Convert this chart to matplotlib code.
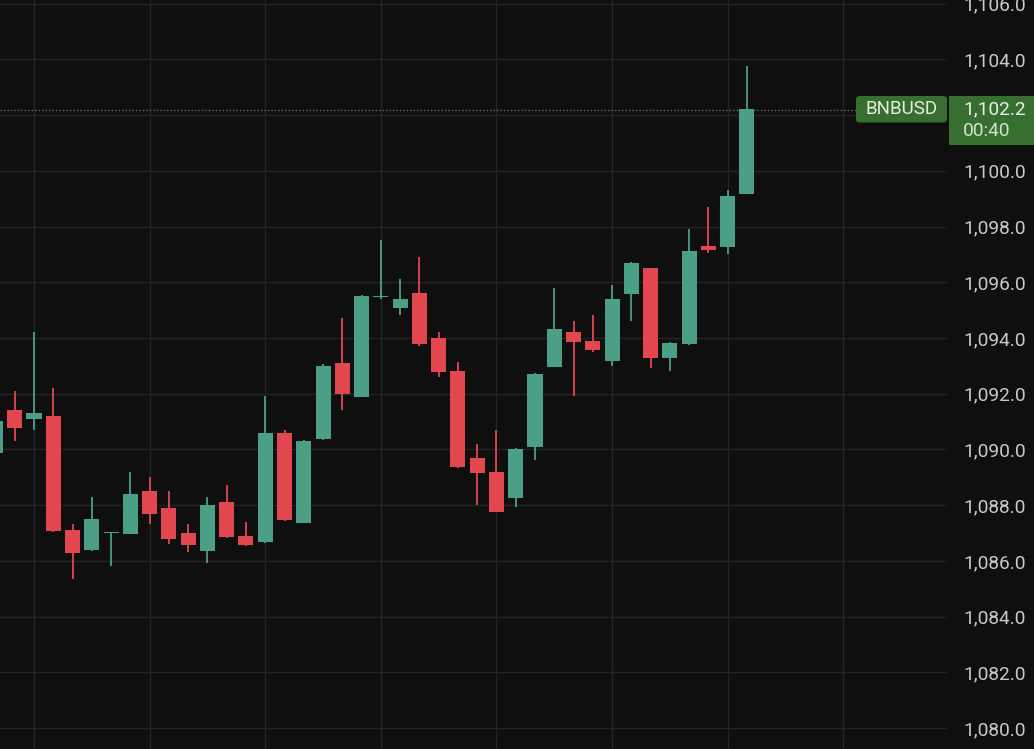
import matplotlib
matplotlib.use("Agg")
import matplotlib.pyplot as plt
from matplotlib.patches import FancyBboxPatch, Rectangle
from matplotlib.ticker import FuncFormatter

plt.rcParams['font.family'] = ['Roboto', 'DejaVu Sans']

# ---- data ----
opens  = [1089.89, 1091.42, 1091.08, 1091.19, 1087.11, 1086.38, 1087.00, 1086.98, 1088.51, 1087.90,
          1087.00, 1086.37, 1088.12, 1086.90, 1086.68, 1090.59, 1087.37, 1090.38, 1093.12, 1091.90,
          1095.47, 1095.09, 1095.63, 1094.01, 1092.82, 1089.71, 1089.19, 1088.27, 1090.10, 1092.97,
          1094.22, 1093.90, 1093.19, 1095.59, 1096.50, 1093.29, 1093.79, 1097.30, 1097.28, 1099.18]
highs  = [1091.20, 1092.10, 1094.21, 1092.20, 1087.32, 1088.30, 1087.02, 1089.18, 1089.01, 1088.52,
          1087.34, 1088.30, 1088.73, 1087.41, 1091.92, 1090.70, 1090.35, 1093.05, 1094.72, 1095.55,
          1097.51, 1096.12, 1096.91, 1094.22, 1093.13, 1090.20, 1090.70, 1090.05, 1092.75, 1095.78,
          1094.61, 1094.83, 1095.90, 1096.72, 1096.52, 1093.85, 1097.91, 1098.71, 1099.31, 1103.77]
lows   = [1089.70, 1090.32, 1090.70, 1087.03, 1085.34, 1086.36, 1085.83, 1086.96, 1087.33, 1086.62,
          1086.33, 1085.94, 1086.84, 1086.55, 1086.66, 1087.45, 1087.35, 1090.35, 1091.42, 1091.88,
          1095.40, 1094.84, 1093.71, 1092.60, 1089.33, 1088.01, 1087.75, 1087.93, 1089.63, 1092.95,
          1091.93, 1093.51, 1093.01, 1094.61, 1092.94, 1092.83, 1093.75, 1097.04, 1097.02, 1099.15]
closes = [1091.02, 1090.78, 1091.30, 1087.09, 1086.30, 1087.51, 1087.00, 1088.40, 1087.70, 1086.79,
          1086.58, 1088.01, 1086.86, 1086.57, 1090.59, 1087.47, 1090.31, 1093.01, 1092.00, 1095.51,
          1095.50, 1095.40, 1093.79, 1092.78, 1089.38, 1089.17, 1087.77, 1090.02, 1092.71, 1094.32,
          1093.87, 1093.58, 1095.40, 1096.69, 1093.29, 1093.82, 1097.12, 1097.17, 1099.10, 1102.21]
first_index = -2
price_ticks = [1080, 1082, 1084, 1086, 1088, 1090, 1092, 1094, 1096, 1098, 1100, 1102, 1104, 1106]
hidden_tick = 1102  # covered by the last-price tag in the reference
symbol = "BNBUSD"
last_price = 1102.2
countdown = "00:40"

# ---- style ----
BG = "#0f0f0f"
GRID = "#242424"
UP = "#4b9f87"
DOWN = "#e2474f"
LABEL = "#c9c9c9"
TAG = "#376f31"

W, H = 1034, 749
fig = plt.figure(figsize=(W / 100, H / 100), dpi=100, facecolor=BG)
ax_right_px = 947
ax = fig.add_axes([0, 0, ax_right_px / W, 1])
ax.set_facecolor(BG)

xs = list(range(first_index, first_index + len(opens)))
for x, o, h, l, c in zip(xs, opens, highs, lows, closes):
    col = UP if c >= o else DOWN
    ax.vlines(x, l, h, color=col, linewidth=1.3, zorder=3)
    bottom = min(o, c)
    height = max(abs(c - o), 0.05)
    ax.bar(x, height, bottom=bottom, width=0.78, color=col, linewidth=0, zorder=4)

ax.set_xlim(-1.764, 47.38)
ax.set_ylim(1079.25, 1106.13)

ax.set_xticks(list(range(0, 48, 6)))
ax.set_yticks(price_ticks)
ax.grid(True, color=GRID, linewidth=1.0, zorder=0)
ax.tick_params(axis='x', length=0, labelbottom=False)
ax.yaxis.tick_right()
ax.tick_params(axis='y', length=0, pad=11.5, labelsize=13.8, labelcolor=LABEL)
ax.yaxis.set_major_formatter(
    FuncFormatter(lambda v, p: "" if abs(v - hidden_tick) < 1e-6 else f"{v:,.1f}"))
for s in ax.spines.values():
    s.set_visible(False)

ax.axhline(last_price, color="#5e6e58", linewidth=1.0, linestyle=(0, (1, 1.5)), zorder=2)

# tags (pixel coordinates -> figure fraction)
def fx(px):
    return px / W

def fy(py):
    return 1 - py / H

tag1 = FancyBboxPatch((fx(856), fy(122.5)), fx(947) - fx(856), fy(96) - fy(122.5),
                      boxstyle="round,pad=0,rounding_size=0.004", transform=fig.transFigure,
                      facecolor=TAG, edgecolor="none", zorder=5)
fig.add_artist(tag1)
tag2 = Rectangle((fx(949), fy(145)), fx(1040) - fx(949), fy(96) - fy(145),
                 transform=fig.transFigure, facecolor=TAG, edgecolor="none", zorder=5)
fig.add_artist(tag2)
fig.text(fx(901.5), fy(109.5), symbol, ha="center", va="center", color="#e6f0e0",
         fontsize=13.5, zorder=6)
fig.text(fx(963.5), fy(109.5), f"{last_price:,.1f}", ha="left", va="center", color="#e6f0e0",
         fontsize=13.8, zorder=6)
fig.text(fx(963), fy(131), countdown, ha="left", va="center", color="#cfe3c8",
         fontsize=13.8, zorder=6)

fig.savefig("out.png", dpi=100, facecolor=BG)
